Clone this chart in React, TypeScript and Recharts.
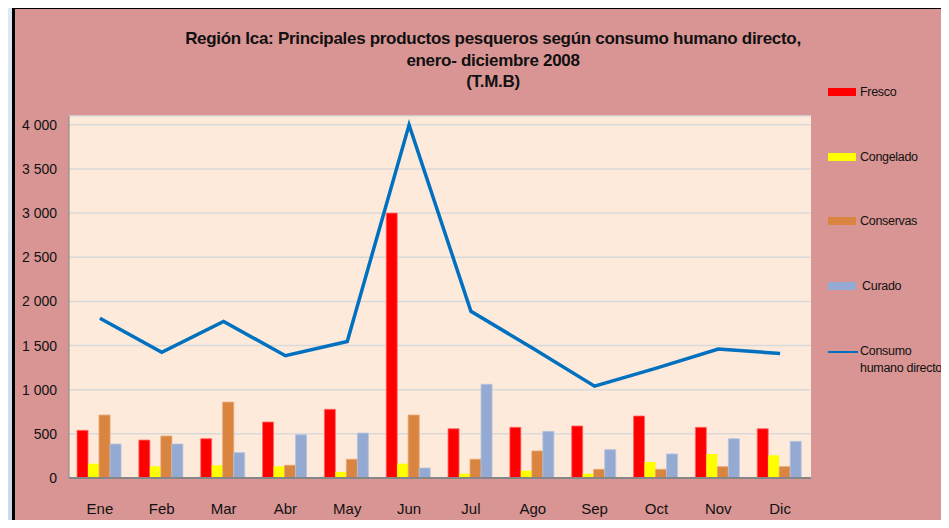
import React from 'react';
import {
  Bar,
  CartesianGrid,
  ComposedChart,
  Line,
  XAxis,
  YAxis,
} from 'recharts';

const months = ['Ene', 'Feb', 'Mar', 'Abr', 'May', 'Jun', 'Jul', 'Ago', 'Sep', 'Oct', 'Nov', 'Dic'];
const fresco = [540, 430, 445, 634, 778, 3000, 558, 574, 589, 702, 574, 558];
const congelado = [162, 132, 144, 132, 68, 162, 49, 83, 49, 181, 272, 257];
const conservas = [713, 475, 860, 144, 212, 713, 212, 306, 98, 98, 128, 128];
const curado = [385, 385, 287, 490, 509, 113, 1061, 528, 321, 272, 445, 415];
const consumo = [1810, 1424, 1773, 1385, 1547, 4000, 1888, 1470, 1040, 1245, 1460, 1410];
const yTicks = [0, 500, 1000, 1500, 2000, 2500, 3000, 3500, 4000];

const data = months.map((m, i) => ({
  month: m,
  fresco: fresco[i],
  congelado: congelado[i],
  conservas: conservas[i],
  curado: curado[i],
  consumo: consumo[i],
}));

const FONT = 'Arial, "Liberation Sans", sans-serif';

const legendItems = [
  { label: 'Fresco', color: '#FF0000', y: 93, pad: 4 },
  { label: 'Congelado', color: '#FFFF00', y: 158, pad: 4 },
  { label: 'Conservas', color: '#D9843F', y: 222, pad: 4 },
  { label: 'Curado', color: '#95AAD3', y: 287, pad: 6 },
];

function fmt(v: number) {
  return v >= 1000 ? `${Math.floor(v / 1000)} ${String(v % 1000).padStart(3, '0')}` : String(v);
}

function LegendBox() {
  return (
    <div
      style={{
        position: 'absolute',
        left: 828,
        top: 0,
        width: 121,
        height: 400,
        fontFamily: FONT,
        fontSize: 12.5,
        letterSpacing: -0.3,
        color: '#111',
        whiteSpace: 'nowrap',
      }}
    >
      {legendItems.map((it) => (
        <div key={it.label} style={{ position: 'absolute', left: 0, top: it.y - 8, display: 'flex', alignItems: 'center' }}>
          <span style={{ display: 'inline-block', width: 28, height: 8, background: it.color, marginRight: it.pad }} />
          <span>{it.label}</span>
        </div>
      ))}
      <div style={{ position: 'absolute', left: 0, top: 343, display: 'flex' }}>
        <span style={{ display: 'inline-block', width: 30, height: 2, background: '#0070C0', marginTop: 8, marginRight: 2 }} />
        <span style={{ lineHeight: '17px' }}>
          Consumo
          <br />
          humano directo
        </span>
      </div>
    </div>
  );
}

export default function App() {
  return (
    <div
      style={{
        position: 'relative',
        margin: -8,
        width: 949,
        height: 528,
        overflow: 'hidden',
        background: 'linear-gradient(135deg, #dfe8f2, #c9d8ea 40%, #e3ebf4)',
      }}
    >
      <div
        style={{
          position: 'absolute',
          left: 12,
          top: 6,
          width: 960,
          height: 540,
          background: '#D99594',
          borderLeft: '3px solid #000',
          borderTop: '3px solid #000',
        }}
      />
      <div
        style={{
          position: 'absolute',
          left: 0,
          top: 28,
          width: 986,
          textAlign: 'center',
          fontFamily: FONT,
          fontWeight: 'bold',
          fontSize: 17,
          letterSpacing: -0.3,
          lineHeight: '21.5px',
          color: '#111',
        }}
      >
        Región Ica: Principales productos pesqueros según consumo humano directo,
        <br />
        enero- diciembre 2008
        <br />
        (T.M.B)
      </div>
      <div style={{ position: 'absolute', left: 0, top: 0 }}>
        <ComposedChart
          width={949}
          height={528}
          data={data}
          margin={{ top: 116, right: 138, bottom: 20, left: 19 }}
          barCategoryGap="13%"
          barGap={0}
        >
          <CartesianGrid vertical={false} fill="#FDEADA" stroke="#D9D9D9" strokeWidth={1.5} />
          <XAxis
            dataKey="month"
            height={30}
            tickLine={false}
            axisLine={{ stroke: '#868686', strokeWidth: 2 }}
            tick={{ fill: '#111', fontSize: 15, fontFamily: FONT }}
            tickMargin={19}
          />
          <YAxis
            width={50}
            domain={[0, 4100]}
            ticks={yTicks}
            interval={0}
            tickFormatter={fmt}
            tickLine={false}
            axisLine={{ stroke: '#868686', strokeWidth: 1 }}
            tick={{ fill: '#111', fontSize: 14, fontFamily: FONT }}
            tickMargin={6}
          />
          <Bar dataKey="fresco" fill="#FF0000" stroke="#FF6A6A" strokeWidth={0.8} isAnimationActive={false} />
          <Bar dataKey="congelado" fill="#FFFF00" isAnimationActive={false} />
          <Bar dataKey="conservas" fill="#D9843F" stroke="#E9A36F" strokeWidth={0.8} isAnimationActive={false} />
          <Bar dataKey="curado" fill="#95AAD3" stroke="#B4C3E0" strokeWidth={0.8} isAnimationActive={false} />
          <Line
            dataKey="consumo"
            type="linear"
            stroke="#0070C0"
            strokeWidth={3.5}
            dot={false}
            activeDot={false}
            isAnimationActive={false}
          />
        </ComposedChart>
      </div>
      <LegendBox />
    </div>
  );
}
